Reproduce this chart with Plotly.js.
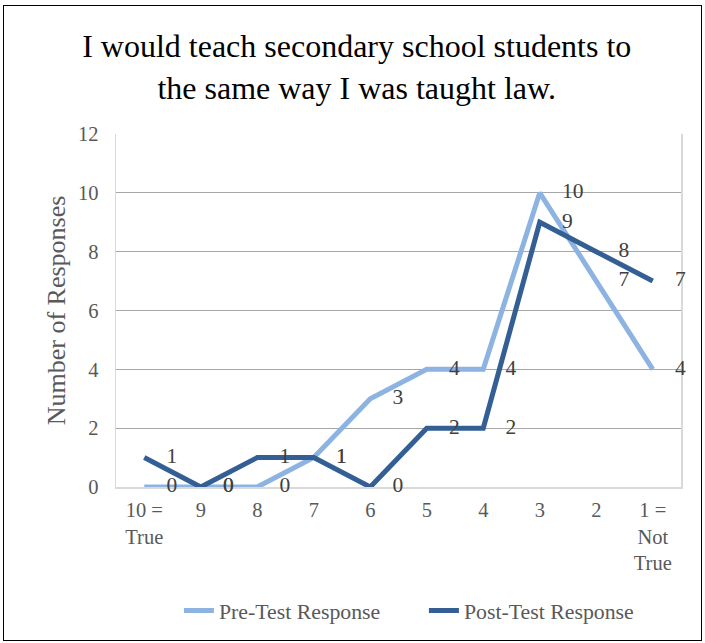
<!DOCTYPE html>
<html>
<head>
<meta charset="utf-8">
<script src="https://cdn.plot.ly/plotly-3.0.1.min.js"></script>
<style>
  html, body { margin: 0; padding: 0; background: #fff; }
  #wrap { position: relative; width: 705px; height: 643px; }
  #chart { width: 705px; height: 643px; }
  #frame { position: absolute; left: 3px; top: 5px; width: 697px; height: 634px; border: 1px solid #000; pointer-events: none; }
</style>
</head>
<body>
<div id="wrap">
  <div id="chart"></div>
  <div id="frame"></div>
</div>
<script>
const categories = ["10 =<br>True", "9", "8", "7", "6", "5", "4", "3", "2", "1 =<br>Not<br>True"];
const preTest = [0, 0, 0, 1, 3, 4, 4, 10, 7, 4];
const postTest = [1, 0, 1, 1, 0, 2, 2, 9, 8, 7];
const seriesNames = ["Pre-Test Response", "Post-Test Response"];
const titleText = "I would teach secondary school students to<br>the same way I was taught law.";
const yTitle = "Number of Responses";

const serif = "Liberation Serif, Times New Roman, serif";
const labelFont = { family: serif, size: 21.5, color: "#404040" };
const colors = ["#8DB3E2", "#335F94"];

function lineTrace(name, vals, color) {
  return {
    type: "scatter",
    mode: "lines",
    name: name,
    x: categories,
    y: vals,
    line: { color: color, width: 5 },
    cliponaxis: false,
    hoverinfo: "x+y"
  };
}
function labelTrace(name, vals, color) {
  return {
    type: "scatter",
    mode: "markers+text",
    name: name,
    showlegend: false,
    x: categories,
    y: vals,
    text: vals.map(String),
    textposition: "middle right",
    textfont: labelFont,
    marker: { size: 34, opacity: 0, color: color },
    cliponaxis: false,
    hoverinfo: "skip"
  };
}

const data = [
  lineTrace(seriesNames[0], preTest, colors[0]),
  lineTrace(seriesNames[1], postTest, colors[1]),
  labelTrace(seriesNames[0], preTest, colors[0]),
  labelTrace(seriesNames[1], postTest, colors[1])
];

const layout = {
  width: 705,
  height: 643,
  paper_bgcolor: "#ffffff",
  plot_bgcolor: "#ffffff",
  margin: { l: 116, r: 24, t: 134, b: 155 },
  title: {
    text: titleText,
    font: { family: serif, size: 32, color: "#000000" },
    x: 0.506, xanchor: "center",
    y: 0.911, yanchor: "top", yref: "container"
  },
  xaxis: {
    type: "category",
    range: [-0.5, 9.5],
    showgrid: false,
    showline: true,
    layer: "below traces",
    linecolor: "#D9D9D9",
    linewidth: 1.5,
    ticks: "outside",
    ticklen: 4,
    tickcolor: "rgba(0,0,0,0)",
    tickfont: { family: serif, size: 20.5, color: "#595959" },
    zeroline: false
  },
  yaxis: {
    range: [0, 12],
    dtick: 2,
    tick0: 0,
    showgrid: true,
    gridcolor: "#A6A6A6",
    gridwidth: 1,
    showline: true,
    mirror: true,
    layer: "below traces",
    linecolor: "#D9D9D9",
    linewidth: 1.5,
    zeroline: false,
    ticks: "outside",
    ticklen: 12,
    tickcolor: "rgba(0,0,0,0)",
    tickfont: { family: serif, size: 20.5, color: "#595959" },
    title: { text: yTitle, font: { family: serif, size: 26, color: "#595959" }, standoff: 5 }
  },
  showlegend: true,
  legend: {
    orientation: "h",
    x: 0.545, xanchor: "center",
    y: -0.347, yanchor: "middle",
    entrywidth: 200,
    font: { family: serif, size: 21.8, color: "#595959" },
    bgcolor: "rgba(0,0,0,0)"
  }
};

Plotly.newPlot("chart", data, layout, { displayModeBar: false, staticPlot: true });
</script>
</body>
</html>
